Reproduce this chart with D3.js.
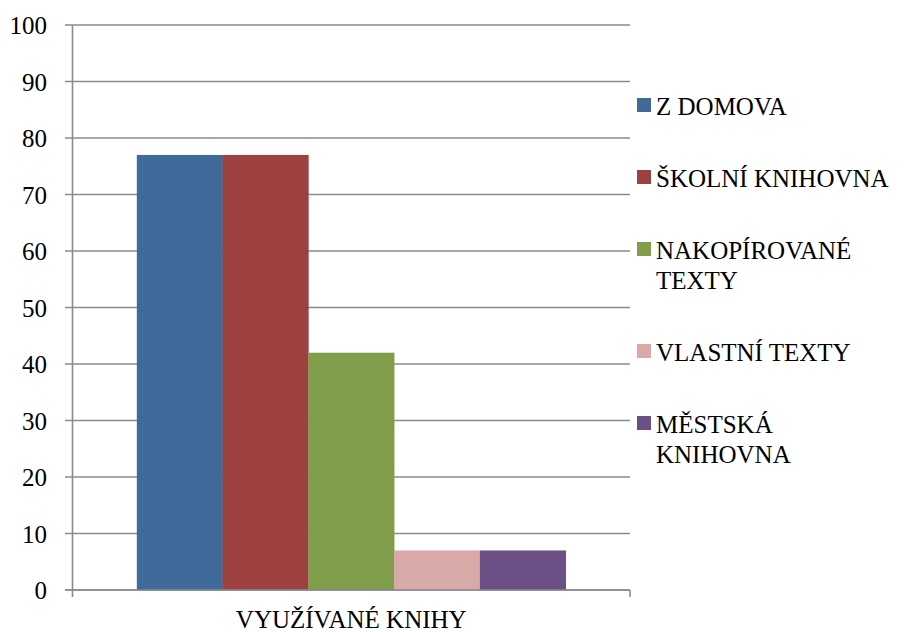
<!DOCTYPE html>
<html>
<head>
<meta charset="utf-8">
<script src="https://cdn.jsdelivr.net/npm/d3@7"></script>
<style>
  html, body { margin: 0; padding: 0; background: #fff; }
  svg { display: block; }
</style>
</head>
<body>
<svg id="chart" width="905" height="632"></svg>
<script>
// Category on the x axis
const categories = ["VYUŽÍVANÉ KNIHY"];
// Series (legend entries) and their values
const seriesNames = ["Z DOMOVA", "ŠKOLNÍ KNIHOVNA", "NAKOPÍROVANÉ TEXTY", "VLASTNÍ TEXTY", "MĚSTSKÁ KNIHOVNA"];
const seriesLegendLines = [["Z DOMOVA"], ["ŠKOLNÍ KNIHOVNA"], ["NAKOPÍROVANÉ", "TEXTY"], ["VLASTNÍ TEXTY"], ["MĚSTSKÁ", "KNIHOVNA"]];
const seriesValues = [77, 77, 42, 7, 7];
const seriesColors = ["#406a9a", "#9c413f", "#809d4a", "#d9a9a8", "#6a5086"];
const yTicks = [0, 10, 20, 30, 40, 50, 60, 70, 80, 90, 100];

const FONT = '"Liberation Serif", "Times New Roman", Tinos, Times, serif';
const FONT_SIZE = "25px";
const svg = d3.select("#chart");
const plot = { left: 72.5, right: 630, top: 25, bottom: 590 };
const gridColor = "#8a8a8a";

const x = d3.scaleBand().domain(categories).range([plot.left, plot.right]).paddingInner(0).paddingOuter(0.15);
const xs = d3.scaleBand().domain(seriesNames).range([0, x.bandwidth()]).padding(0);
const y = d3.scaleLinear().domain([0, 100]).range([plot.bottom, plot.top]);

function styleText(sel) {
  return sel.style("font-family", FONT).style("font-size", FONT_SIZE).attr("fill", "#000");
}

// Horizontal gridlines, each with a short tick to the left of the axis
svg.append("g").selectAll("line").data(yTicks).join("line")
  .attr("x1", plot.left - 7.5).attr("x2", plot.right)
  .attr("y1", d => y(d)).attr("y2", d => y(d))
  .attr("stroke", gridColor).attr("stroke-width", 1.6);

// Bars
const rows = seriesNames.map((n, i) => ({ name: n, value: seriesValues[i], color: seriesColors[i] }));
svg.append("g").selectAll("rect").data(rows).join("rect")
  .attr("x", d => x(categories[0]) + xs(d.name))
  .attr("width", xs.bandwidth() + 0.3)
  .attr("y", d => y(d.value))
  .attr("height", d => y(0) - y(d.value))
  .attr("fill", d => d.color);

// Axis lines and the category ticks below the x axis
svg.append("line").attr("x1", plot.left).attr("x2", plot.left)
  .attr("y1", plot.top).attr("y2", plot.bottom + 7)
  .attr("stroke", gridColor).attr("stroke-width", 1.6);
svg.append("line").attr("x1", plot.left - 7.5).attr("x2", plot.right)
  .attr("y1", plot.bottom).attr("y2", plot.bottom)
  .attr("stroke", gridColor).attr("stroke-width", 1.6);
svg.append("line").attr("x1", plot.right).attr("x2", plot.right)
  .attr("y1", plot.bottom).attr("y2", plot.bottom + 7)
  .attr("stroke", gridColor).attr("stroke-width", 1.6);

// Y tick labels
styleText(svg.append("g").selectAll("text").data(yTicks).join("text")
  .attr("x", 47).attr("y", d => y(d) + 9)
  .attr("text-anchor", "end")
  .text(d => d));

// X category label
styleText(svg.append("g").selectAll("text").data(categories).join("text")
  .attr("x", d => x(d) + x.bandwidth() / 2)
  .attr("y", 628)
  .attr("text-anchor", "middle")
  .text(d => d));

// Legend
const legend = svg.append("g");
let baseline = 115;
const lineH = 30;
seriesLegendLines.forEach((lines, i) => {
  legend.append("rect").attr("x", 637).attr("y", baseline - 17)
    .attr("width", 14).attr("height", 14).attr("fill", seriesColors[i]);
  const t = styleText(legend.append("text").attr("x", 656).attr("y", baseline));
  lines.forEach((ln, j) => {
    t.append("tspan").attr("x", 656).attr("y", baseline + j * lineH).text(ln);
  });
  baseline += 42 + lines.length * lineH;
});

// Re-apply the font once the font set is ready
if (document.fonts && document.fonts.ready) {
  document.fonts.ready.then(() => styleText(svg.selectAll("text")));
}
</script>
</body>
</html>
